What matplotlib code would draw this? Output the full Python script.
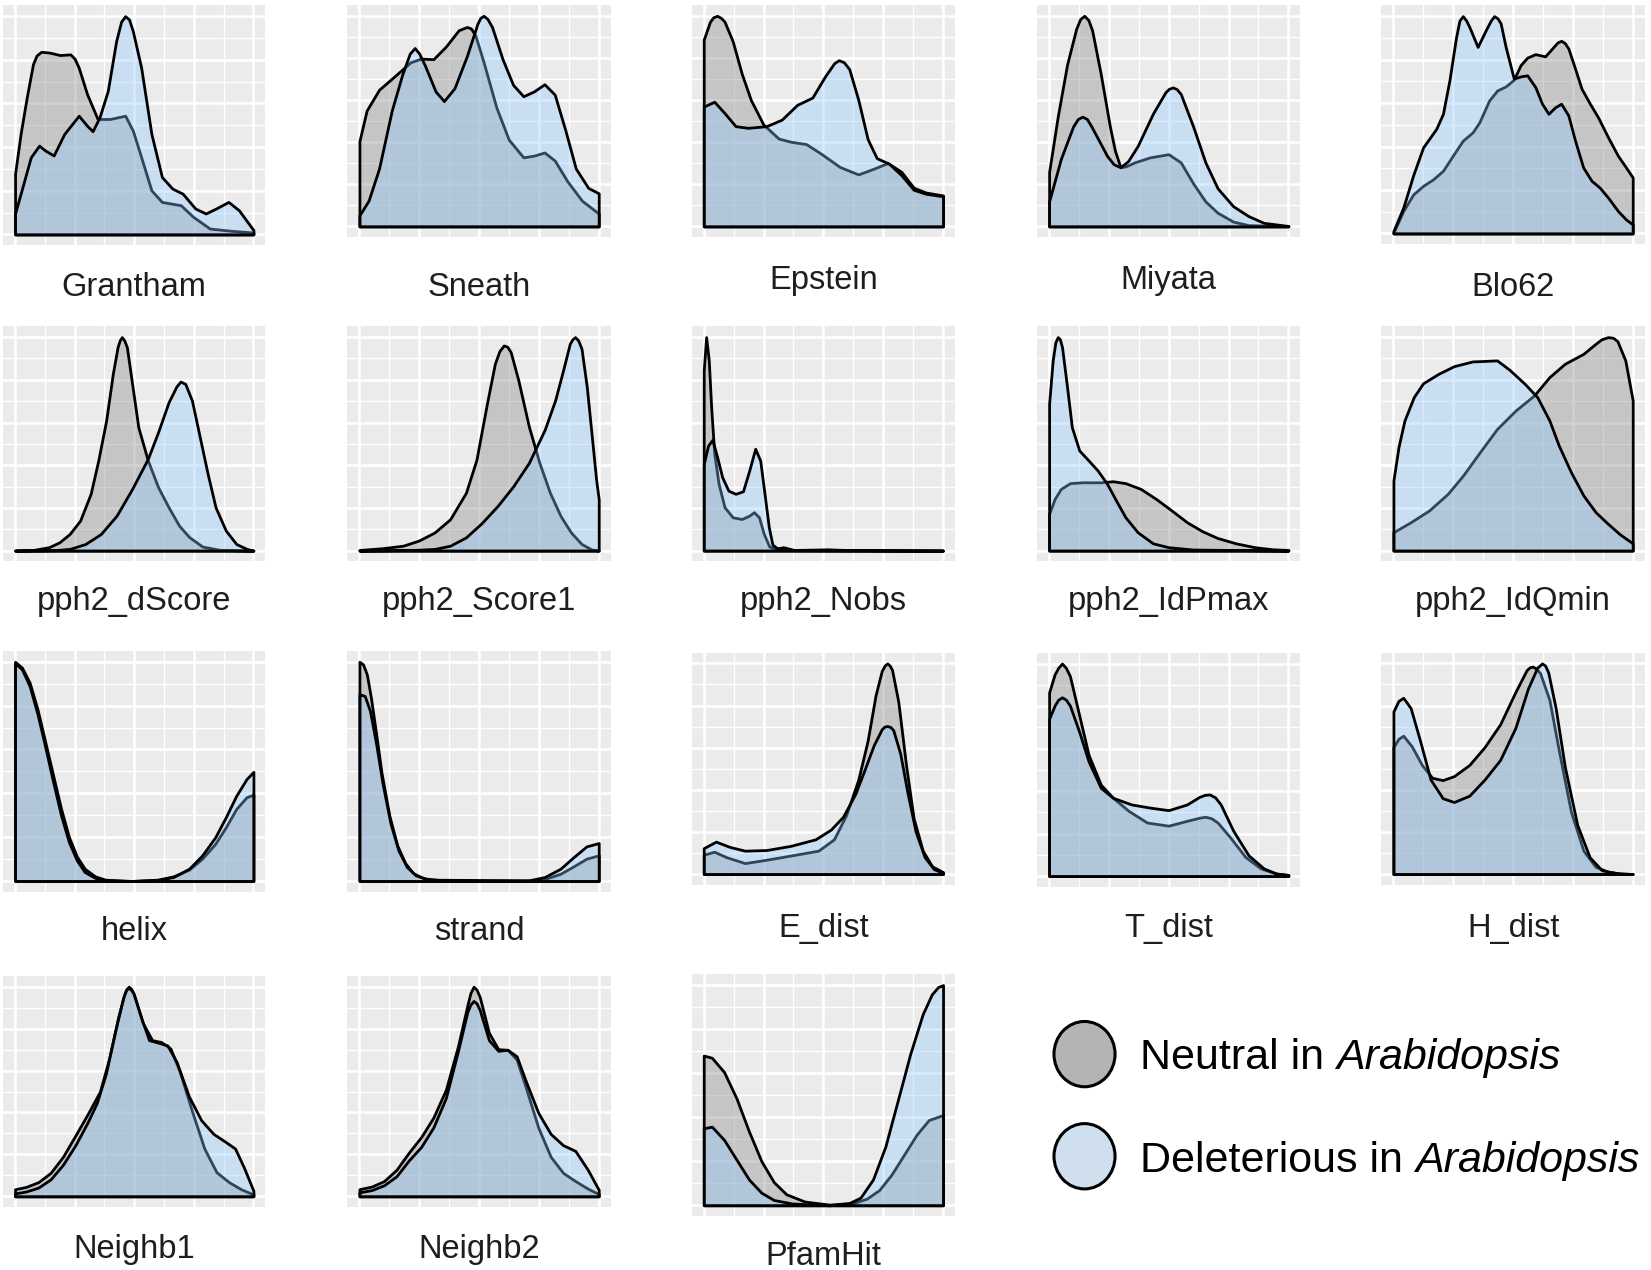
import matplotlib
matplotlib.use('Agg')
import matplotlib.pyplot as plt
from matplotlib.patches import Ellipse
from matplotlib.ticker import MultipleLocator

plt.rcParams['font.family'] = ['Liberation Sans', 'DejaVu Sans']

# ---------------- data (x normalised to variable range, y relative density) -------------
grantham_xn = [0, 0.023, 0.049, 0.075, 0.09, 0.11, 0.145, 0.188, 0.232, 0.25, 0.267, 0.302, 0.346, 0.398, 0.462, 0.494, 0.529, 0.572, 0.616, 0.695, 0.747, 0.817, 0.904, 1.0]
grantham_yn = [0.278, 0.46, 0.628, 0.78, 0.82, 0.837, 0.833, 0.822, 0.825, 0.805, 0.764, 0.643, 0.529, 0.529, 0.544, 0.476, 0.354, 0.202, 0.149, 0.134, 0.081, 0.027, 0.017, 0.009]
grantham_xd = [0, 0.031, 0.066, 0.101, 0.127, 0.162, 0.206, 0.267, 0.302, 0.325, 0.354, 0.389, 0.424, 0.445, 0.462, 0.478, 0.494, 0.529, 0.572, 0.616, 0.66, 0.703, 0.756, 0.8, 0.843, 0.895, 0.939, 1.0]
grantham_yd = [0.096, 0.217, 0.354, 0.407, 0.384, 0.362, 0.46, 0.544, 0.498, 0.473, 0.536, 0.658, 0.886, 0.975, 1.0, 0.985, 0.932, 0.764, 0.46, 0.263, 0.21, 0.187, 0.119, 0.096, 0.119, 0.149, 0.111, 0.02]

sneath_xn = [0, 0.03, 0.082, 0.152, 0.213, 0.257, 0.309, 0.362, 0.414, 0.449, 0.466, 0.484, 0.519, 0.572, 0.624, 0.685, 0.729, 0.773, 0.816, 0.869, 0.93, 1.0]
sneath_yn = [0.405, 0.55, 0.649, 0.718, 0.779, 0.797, 0.794, 0.855, 0.931, 0.947, 0.94, 0.908, 0.779, 0.565, 0.412, 0.328, 0.336, 0.351, 0.313, 0.214, 0.122, 0.061]
sneath_xd = [0, 0.038, 0.082, 0.135, 0.178, 0.21, 0.231, 0.25, 0.274, 0.318, 0.353, 0.397, 0.449, 0.493, 0.505, 0.519, 0.535, 0.554, 0.598, 0.642, 0.685, 0.729, 0.773, 0.816, 0.86, 0.904, 0.956, 1.0]
sneath_yd = [0.053, 0.122, 0.275, 0.55, 0.718, 0.82, 0.847, 0.82, 0.763, 0.641, 0.595, 0.656, 0.809, 0.962, 0.99, 1.0, 0.985, 0.947, 0.794, 0.672, 0.618, 0.641, 0.675, 0.626, 0.458, 0.275, 0.183, 0.157]

epstein_xn = [0, 0.026, 0.04, 0.056, 0.072, 0.087, 0.121, 0.159, 0.197, 0.249, 0.313, 0.364, 0.428, 0.492, 0.569, 0.646, 0.71, 0.769, 0.826, 0.877, 0.928, 1.0]
epstein_yn = [0.887, 0.972, 0.993, 1.0, 0.99, 0.972, 0.879, 0.724, 0.6, 0.484, 0.417, 0.402, 0.391, 0.344, 0.282, 0.247, 0.274, 0.301, 0.259, 0.184, 0.161, 0.147]
epstein_xd = [0, 0.044, 0.087, 0.133, 0.185, 0.262, 0.326, 0.39, 0.454, 0.505, 0.545, 0.564, 0.585, 0.608, 0.646, 0.685, 0.723, 0.774, 0.826, 0.877, 0.928, 1.0]
epstein_yd = [0.569, 0.592, 0.538, 0.476, 0.468, 0.476, 0.507, 0.577, 0.612, 0.709, 0.775, 0.789, 0.78, 0.747, 0.6, 0.414, 0.324, 0.298, 0.243, 0.174, 0.155, 0.143]

miyata_xn = [0, 0.036, 0.075, 0.113, 0.13, 0.147, 0.164, 0.18, 0.216, 0.254, 0.275, 0.298, 0.32, 0.357, 0.422, 0.499, 0.55, 0.602, 0.653, 0.704, 0.769, 0.833, 1.0]
miyata_yn = [0.258, 0.521, 0.768, 0.938, 0.985, 1.0, 0.98, 0.93, 0.722, 0.474, 0.36, 0.281, 0.285, 0.304, 0.328, 0.343, 0.304, 0.204, 0.119, 0.065, 0.023, 0.006, 0.002]
miyata_xd = [0, 0.049, 0.1, 0.12, 0.139, 0.158, 0.177, 0.242, 0.27, 0.298, 0.33, 0.37, 0.434, 0.486, 0.5, 0.517, 0.533, 0.55, 0.602, 0.653, 0.704, 0.769, 0.833, 0.897, 1.0]
miyata_yd = [0.119, 0.32, 0.474, 0.51, 0.521, 0.51, 0.474, 0.335, 0.295, 0.281, 0.31, 0.382, 0.536, 0.637, 0.653, 0.66, 0.652, 0.629, 0.474, 0.304, 0.181, 0.096, 0.049, 0.017, 0.002]

blo62_xn = [0, 0.041, 0.083, 0.124, 0.166, 0.207, 0.248, 0.29, 0.331, 0.359, 0.4, 0.434, 0.469, 0.503, 0.531, 0.559, 0.593, 0.634, 0.669, 0.686, 0.701, 0.716, 0.731, 0.759, 0.786, 0.821, 0.855, 0.897, 0.938, 0.972, 1.0]
blo62_yn = [0.003, 0.103, 0.179, 0.218, 0.248, 0.287, 0.356, 0.425, 0.463, 0.509, 0.609, 0.655, 0.673, 0.704, 0.77, 0.805, 0.821, 0.811, 0.854, 0.875, 0.882, 0.872, 0.847, 0.755, 0.663, 0.594, 0.532, 0.44, 0.356, 0.302, 0.256]
blo62_xd = [0, 0.041, 0.083, 0.124, 0.179, 0.207, 0.234, 0.262, 0.276, 0.29, 0.304, 0.317, 0.352, 0.386, 0.407, 0.421, 0.435, 0.448, 0.469, 0.503, 0.531, 0.559, 0.593, 0.621, 0.648, 0.676, 0.701, 0.731, 0.759, 0.793, 0.828, 0.862, 0.897, 0.938, 0.972, 1.0]
blo62_yd = [0.011, 0.118, 0.268, 0.394, 0.479, 0.548, 0.701, 0.9, 0.975, 0.995, 0.975, 0.946, 0.854, 0.931, 0.975, 0.995, 0.985, 0.962, 0.854, 0.709, 0.719, 0.724, 0.67, 0.594, 0.548, 0.578, 0.594, 0.54, 0.425, 0.302, 0.241, 0.21, 0.164, 0.103, 0.064, 0.041]

dscore_xn = [0, 0.076, 0.142, 0.186, 0.229, 0.273, 0.317, 0.349, 0.382, 0.41, 0.43, 0.439, 0.448, 0.458, 0.469, 0.491, 0.517, 0.557, 0.6, 0.644, 0.688, 0.731, 0.786, 0.862, 1.0]
dscore_yn = [0, 0.003, 0.016, 0.039, 0.078, 0.141, 0.266, 0.422, 0.609, 0.828, 0.953, 0.985, 1.0, 0.985, 0.953, 0.781, 0.578, 0.422, 0.297, 0.203, 0.117, 0.063, 0.019, 0.003, 0]
dscore_xd = [0, 0.164, 0.229, 0.295, 0.36, 0.426, 0.491, 0.557, 0.6, 0.644, 0.677, 0.694, 0.714, 0.742, 0.775, 0.808, 0.841, 0.884, 0.928, 0.972, 1.0]
dscore_yd = [0, 0.002, 0.008, 0.031, 0.078, 0.164, 0.289, 0.43, 0.555, 0.695, 0.769, 0.792, 0.781, 0.703, 0.531, 0.359, 0.203, 0.094, 0.031, 0.008, 0]

score1_xn = [0, 0.094, 0.182, 0.248, 0.314, 0.379, 0.445, 0.489, 0.533, 0.566, 0.585, 0.603, 0.618, 0.632, 0.664, 0.708, 0.752, 0.796, 0.84, 0.884, 0.928, 0.971, 1.0]
score1_yn = [0.003, 0.011, 0.023, 0.047, 0.085, 0.147, 0.271, 0.426, 0.69, 0.876, 0.935, 0.961, 0.955, 0.93, 0.798, 0.581, 0.411, 0.271, 0.163, 0.085, 0.031, 0.005, 0]
score1_xd = [0, 0.226, 0.314, 0.379, 0.445, 0.511, 0.577, 0.643, 0.708, 0.774, 0.818, 0.851, 0.879, 0.89, 0.901, 0.914, 0.928, 0.95, 0.971, 0.989, 1.0]
score1_yd = [0, 0.003, 0.008, 0.023, 0.062, 0.129, 0.209, 0.302, 0.411, 0.566, 0.705, 0.845, 0.969, 0.99, 1.0, 0.985, 0.946, 0.767, 0.535, 0.333, 0.24]

nobs_xn = [0, 0.01, 0.021, 0.031, 0.044, 0.062, 0.087, 0.121, 0.159, 0.19, 0.21, 0.231, 0.251, 0.274, 0.3, 0.333, 0.377, 0.518, 0.595, 1.0]
nobs_yn = [0.844, 1.0, 0.891, 0.672, 0.453, 0.313, 0.203, 0.156, 0.148, 0.164, 0.18, 0.156, 0.078, 0.019, 0.009, 0.016, 0.003, 0.006, 0.003, 0]
nobs_xd = [0, 0.018, 0.036, 0.056, 0.077, 0.103, 0.133, 0.164, 0.19, 0.215, 0.236, 0.254, 0.272, 0.287, 0.313, 0.415, 1.0]
nobs_yd = [0.406, 0.492, 0.519, 0.438, 0.344, 0.281, 0.266, 0.278, 0.375, 0.477, 0.422, 0.266, 0.109, 0.028, 0.006, 0.002, 0]

idpmax_xn = [0, 0.023, 0.049, 0.087, 0.139, 0.216, 0.267, 0.319, 0.383, 0.447, 0.512, 0.576, 0.64, 0.704, 0.781, 0.859, 0.936, 1.0]
idpmax_yn = [0.172, 0.242, 0.289, 0.316, 0.32, 0.32, 0.325, 0.316, 0.289, 0.242, 0.188, 0.133, 0.091, 0.059, 0.034, 0.016, 0.006, 0.003]
idpmax_xd = [0, 0.015, 0.026, 0.036, 0.045, 0.054, 0.075, 0.095, 0.126, 0.165, 0.203, 0.242, 0.28, 0.319, 0.37, 0.434, 0.499, 0.602, 1.0]
idpmax_yd = [0.688, 0.891, 0.975, 1.0, 0.99, 0.953, 0.766, 0.578, 0.469, 0.422, 0.375, 0.313, 0.234, 0.156, 0.086, 0.034, 0.016, 0.005, 0]

idqmin_xn = [0, 0.072, 0.149, 0.227, 0.291, 0.356, 0.433, 0.51, 0.588, 0.652, 0.716, 0.794, 0.845, 0.87, 0.897, 0.918, 0.936, 0.969, 1.0]
idqmin_yn = [0.086, 0.133, 0.188, 0.266, 0.352, 0.453, 0.57, 0.656, 0.727, 0.813, 0.875, 0.922, 0.969, 0.99, 1.0, 0.997, 0.981, 0.891, 0.703]
idqmin_xd = [0, 0.021, 0.046, 0.085, 0.124, 0.188, 0.253, 0.33, 0.433, 0.485, 0.549, 0.601, 0.652, 0.691, 0.742, 0.794, 0.845, 0.897, 0.948, 1.0]
idqmin_yd = [0.328, 0.484, 0.609, 0.719, 0.784, 0.828, 0.864, 0.886, 0.891, 0.847, 0.781, 0.719, 0.609, 0.492, 0.367, 0.258, 0.18, 0.125, 0.075, 0.034]

helix_xn = [0, 0.029, 0.061, 0.094, 0.127, 0.16, 0.193, 0.226, 0.259, 0.292, 0.336, 0.379, 0.489, 0.599, 0.664, 0.73, 0.785, 0.84, 0.884, 0.928, 0.971, 1.0]
helix_yn = [1.0, 0.973, 0.905, 0.783, 0.632, 0.48, 0.329, 0.2, 0.112, 0.056, 0.021, 0.006, 0, 0.006, 0.021, 0.052, 0.102, 0.17, 0.245, 0.329, 0.382, 0.394]
helix_xd = [0, 0.029, 0.061, 0.094, 0.127, 0.16, 0.193, 0.226, 0.259, 0.292, 0.336, 0.379, 0.489, 0.599, 0.664, 0.73, 0.785, 0.84, 0.884, 0.928, 0.971, 1.0]
helix_yd = [0.994, 0.965, 0.889, 0.761, 0.609, 0.45, 0.298, 0.177, 0.094, 0.041, 0.014, 0.003, 0, 0.005, 0.018, 0.056, 0.117, 0.2, 0.291, 0.389, 0.465, 0.498]

strand_xn = [0, 0.015, 0.031, 0.048, 0.07, 0.092, 0.125, 0.158, 0.191, 0.224, 0.268, 0.356, 0.708, 0.774, 0.84, 0.895, 0.949, 1.0]
strand_yn = [1.0, 0.988, 0.942, 0.836, 0.67, 0.495, 0.298, 0.162, 0.082, 0.036, 0.012, 0.002, 0.002, 0.009, 0.033, 0.067, 0.102, 0.117]
strand_xd = [0, 0.022, 0.044, 0.07, 0.097, 0.13, 0.163, 0.198, 0.235, 0.29, 0.708, 0.774, 0.84, 0.895, 0.949, 1.0]
strand_yd = [0.852, 0.844, 0.776, 0.624, 0.442, 0.261, 0.139, 0.064, 0.026, 0.006, 0.003, 0.018, 0.056, 0.109, 0.158, 0.173]

edist_xn = [0, 0.044, 0.095, 0.172, 0.262, 0.364, 0.479, 0.544, 0.595, 0.646, 0.685, 0.718, 0.744, 0.756, 0.767, 0.777, 0.787, 0.813, 0.846, 0.877, 0.915, 0.954, 1.0]
edist_yn = [0.092, 0.106, 0.08, 0.052, 0.068, 0.088, 0.111, 0.165, 0.28, 0.449, 0.634, 0.849, 0.965, 0.99, 1.0, 0.99, 0.969, 0.818, 0.511, 0.265, 0.111, 0.037, 0.009]
edist_xd = [0, 0.051, 0.108, 0.172, 0.262, 0.364, 0.467, 0.531, 0.582, 0.633, 0.672, 0.71, 0.744, 0.755, 0.767, 0.78, 0.792, 0.821, 0.851, 0.885, 0.923, 0.962, 1.0]
edist_yd = [0.123, 0.154, 0.129, 0.111, 0.114, 0.134, 0.165, 0.211, 0.272, 0.38, 0.495, 0.611, 0.688, 0.70, 0.703, 0.698, 0.683, 0.572, 0.388, 0.203, 0.08, 0.023, 0.006]

tdist_xn = [0, 0.023, 0.038, 0.054, 0.07, 0.087, 0.126, 0.165, 0.216, 0.267, 0.332, 0.409, 0.499, 0.576, 0.63, 0.653, 0.678, 0.704, 0.756, 0.82, 0.884, 0.949, 1.0]
tdist_yn = [0.864, 0.949, 0.98, 1.0, 0.98, 0.941, 0.755, 0.57, 0.43, 0.368, 0.307, 0.252, 0.237, 0.26, 0.275, 0.279, 0.272, 0.252, 0.183, 0.09, 0.036, 0.012, 0.005]
tdist_xd = [0, 0.023, 0.038, 0.054, 0.07, 0.087, 0.126, 0.165, 0.216, 0.267, 0.344, 0.422, 0.499, 0.576, 0.627, 0.65, 0.671, 0.694, 0.717, 0.769, 0.833, 0.897, 0.949, 1.0]
tdist_yd = [0.74, 0.802, 0.83, 0.841, 0.83, 0.802, 0.678, 0.539, 0.415, 0.368, 0.337, 0.322, 0.31, 0.337, 0.372, 0.382, 0.384, 0.37, 0.337, 0.214, 0.098, 0.036, 0.012, 0.005]

hdist_xn = [0, 0.021, 0.041, 0.077, 0.119, 0.162, 0.206, 0.253, 0.317, 0.381, 0.446, 0.51, 0.557, 0.57, 0.582, 0.597, 0.613, 0.652, 0.691, 0.742, 0.794, 0.845, 0.897, 0.948, 1.0]
hdist_yn = [0.603, 0.642, 0.657, 0.606, 0.518, 0.457, 0.446, 0.465, 0.518, 0.603, 0.711, 0.865, 0.969, 0.982, 0.985, 0.975, 0.954, 0.826, 0.588, 0.295, 0.111, 0.034, 0.011, 0.003, 0]
hdist_xd = [0, 0.021, 0.041, 0.072, 0.111, 0.155, 0.206, 0.253, 0.317, 0.381, 0.446, 0.51, 0.562, 0.601, 0.621, 0.634, 0.647, 0.678, 0.716, 0.768, 0.82, 0.871, 0.936, 1.0]
hdist_yd = [0.772, 0.822, 0.837, 0.788, 0.634, 0.449, 0.36, 0.342, 0.372, 0.449, 0.542, 0.695, 0.88, 0.98, 1.0, 0.99, 0.957, 0.788, 0.511, 0.234, 0.08, 0.018, 0.003, 0]

neighb1_xn = [0, 0.046, 0.098, 0.149, 0.201, 0.253, 0.304, 0.356, 0.394, 0.433, 0.459, 0.468, 0.477, 0.487, 0.497, 0.536, 0.575, 0.613, 0.652, 0.691, 0.742, 0.794, 0.845, 0.897, 0.948, 1.0]
neighb1_yn = [0.034, 0.045, 0.068, 0.112, 0.189, 0.29, 0.391, 0.5, 0.655, 0.857, 0.966, 0.99, 1.0, 0.99, 0.969, 0.826, 0.745, 0.736, 0.705, 0.593, 0.407, 0.228, 0.115, 0.068, 0.034, 0.009]
neighb1_xd = [0, 0.046, 0.098, 0.149, 0.201, 0.253, 0.304, 0.343, 0.381, 0.42, 0.454, 0.466, 0.477, 0.487, 0.497, 0.531, 0.562, 0.601, 0.639, 0.678, 0.729, 0.781, 0.832, 0.884, 0.923, 0.961, 1.0]
neighb1_yd = [0.014, 0.023, 0.042, 0.081, 0.151, 0.244, 0.352, 0.446, 0.585, 0.787, 0.95, 0.985, 0.994, 0.985, 0.966, 0.845, 0.745, 0.733, 0.72, 0.64, 0.477, 0.363, 0.298, 0.259, 0.228, 0.135, 0.026]

neighb2_xn = [0, 0.052, 0.103, 0.155, 0.206, 0.258, 0.309, 0.361, 0.412, 0.451, 0.464, 0.477, 0.49, 0.503, 0.541, 0.58, 0.619, 0.657, 0.696, 0.747, 0.799, 0.851, 0.902, 0.954, 1.0]
neighb2_yn = [0.034, 0.047, 0.073, 0.127, 0.208, 0.283, 0.376, 0.508, 0.717, 0.911, 0.97, 1.0, 0.985, 0.95, 0.78, 0.702, 0.699, 0.652, 0.516, 0.329, 0.189, 0.112, 0.073, 0.037, 0.011]
neighb2_xd = [0, 0.052, 0.103, 0.155, 0.206, 0.258, 0.309, 0.361, 0.412, 0.451, 0.464, 0.477, 0.49, 0.503, 0.541, 0.58, 0.619, 0.657, 0.696, 0.747, 0.799, 0.851, 0.902, 0.954, 1.0]
neighb2_yd = [0.019, 0.03, 0.053, 0.096, 0.171, 0.236, 0.329, 0.469, 0.694, 0.88, 0.915, 0.932, 0.92, 0.888, 0.745, 0.694, 0.699, 0.668, 0.547, 0.399, 0.298, 0.244, 0.217, 0.127, 0.031]

pfam_xn = [0, 0.034, 0.085, 0.137, 0.189, 0.241, 0.293, 0.345, 0.422, 0.526, 0.63, 0.681, 0.733, 0.785, 0.837, 0.889, 0.94, 1.0]
pfam_yn = [0.68, 0.67, 0.605, 0.485, 0.335, 0.2, 0.105, 0.05, 0.017, 0.003, 0.012, 0.03, 0.069, 0.14, 0.23, 0.32, 0.387, 0.41]
pfam_xd = [0, 0.034, 0.085, 0.137, 0.189, 0.241, 0.293, 0.37, 0.526, 0.604, 0.655, 0.707, 0.759, 0.811, 0.863, 0.915, 0.953, 0.979, 1.0]
pfam_yd = [0.35, 0.357, 0.297, 0.207, 0.117, 0.057, 0.024, 0.008, 0, 0.008, 0.035, 0.117, 0.267, 0.477, 0.688, 0.868, 0.958, 0.991, 1.0]

panel_names = ["Grantham", "Sneath", "Epstein", "Miyata", "Blo62",
               "pph2_dScore", "pph2_Score1", "pph2_Nobs", "pph2_IdPmax", "pph2_IdQmin",
               "helix", "strand", "E_dist", "T_dist", "H_dist",
               "Neighb1", "Neighb2", "PfamHit"]
neutral_x = [grantham_xn, sneath_xn, epstein_xn, miyata_xn, blo62_xn, dscore_xn, score1_xn, nobs_xn, idpmax_xn,
             idqmin_xn, helix_xn, strand_xn, edist_xn, tdist_xn, hdist_xn, neighb1_xn, neighb2_xn, pfam_xn]
neutral_y = [grantham_yn, sneath_yn, epstein_yn, miyata_yn, blo62_yn, dscore_yn, score1_yn, nobs_yn, idpmax_yn,
             idqmin_yn, helix_yn, strand_yn, edist_yn, tdist_yn, hdist_yn, neighb1_yn, neighb2_yn, pfam_yn]
delet_x = [grantham_xd, sneath_xd, epstein_xd, miyata_xd, blo62_xd, dscore_xd, score1_xd, nobs_xd, idpmax_xd,
           idqmin_xd, helix_xd, strand_xd, edist_xd, tdist_xd, hdist_xd, neighb1_xd, neighb2_xd, pfam_xd]
delet_y = [grantham_yd, sneath_yd, epstein_yd, miyata_yd, blo62_yd, dscore_yd, score1_yd, nobs_yd, idpmax_yd,
           idqmin_yd, helix_yd, strand_yd, edist_yd, tdist_yd, hdist_yd, neighb1_yd, neighb2_yd, pfam_yd]

legend_labels = ["Neutral in", "Deleterious in"]
legend_species = "Arabidopsis"

# ---------------- layout (reference pixel frame 1568 x 1206) ----------------
W, H = 1568.0, 1206.0
boxes = [
    (3, 5, 252, 233), (330, 5, 580, 225), (657, 5, 907, 225), (985, 5, 1235, 225), (1312, 5, 1562, 232),
    (3, 310, 252, 533), (330, 310, 580, 533), (657, 310, 907, 533), (985, 310, 1235, 533), (1312, 310, 1562, 533),
    (3, 618, 252, 847), (330, 618, 580, 847), (657, 620, 907, 840), (985, 620, 1235, 842), (1312, 620, 1562, 840),
    (3, 927, 252, 1146), (330, 927, 580, 1146), (657, 925, 907, 1155),
]
label_base = [281, 281, 274, 274, 281,
              579, 579, 579, 579, 579,
              893, 893, 890, 890, 890,
              1195, 1195, 1201]

NEUTRAL_FILL = (135 / 255, 135 / 255, 135 / 255, 0.38)
DELET_FILL = (140 / 255, 200 / 255, 255 / 255, 0.35)
EDGE_LW = 2.0

fig = plt.figure(figsize=(16.51, 12.70), dpi=100)
fig.patch.set_facecolor('white')

for i, name in enumerate(panel_names):
    x0, y0, x1, y1 = boxes[i]
    ax = fig.add_axes([x0 / W, 1 - y1 / H, (x1 - x0) / W, (y1 - y0) / H])
    ax.set_facecolor('#EBEBEB')
    ax.fill_between(neutral_x[i], neutral_y[i], 0, facecolor=NEUTRAL_FILL, edgecolor='black',
                    linewidth=EDGE_LW, joinstyle='round', zorder=3)
    ax.fill_between(delet_x[i], delet_y[i], 0, facecolor=DELET_FILL, edgecolor='black',
                    linewidth=EDGE_LW, joinstyle='round', zorder=4)
    ymax = max(max(neutral_y[i]), max(delet_y[i]))
    ax.set_xlim(-0.05, 1.05)
    ax.set_ylim(-0.05 * ymax, 1.05 * ymax)
    ax.xaxis.set_major_locator(MultipleLocator(0.25))
    ax.xaxis.set_minor_locator(MultipleLocator(0.125))
    ax.yaxis.set_major_locator(MultipleLocator(0.2 * ymax))
    ax.yaxis.set_minor_locator(MultipleLocator(0.1 * ymax))
    ax.grid(which='major', color='white', linewidth=1.8)
    ax.grid(which='minor', color='white', linewidth=1.0)
    ax.set_axisbelow(True)
    ax.tick_params(which='both', length=0, labelbottom=False, labelleft=False)
    for s in ax.spines.values():
        s.set_visible(False)
    fig.text(((x0 + x1) / 2) / W, 1 - label_base[i] / H, name, ha='center', va='baseline',
             fontsize=23.5, color='#1e1e1e')

# ---------------- legend ----------------
lax = fig.add_axes([0, 0, 1, 1])
lax.set_xlim(0, W)
lax.set_ylim(H, 0)
lax.axis('off')
legend_fills = ['#b4b4b4', '#cfdfed']
legend_cy = [1001, 1098]
fig.canvas.draw()
renderer = fig.canvas.get_renderer()
for lab, fc, cy in zip(legend_labels, legend_fills, legend_cy):
    lax.add_patch(Ellipse((1030, cy), 58, 62, facecolor=fc, edgecolor='black', linewidth=2.2))
    t = lax.text(1083, cy + 14.5, lab, ha='left', va='baseline', fontsize=31, color='black')
    ext = t.get_window_extent(renderer)
    space_px = 0.278 * 31 * fig.dpi / 72.0
    xdisp = ext.x1 + space_px
    xdata = lax.transData.inverted().transform((xdisp, ext.y0))[0]
    lax.text(xdata, cy + 14.5, legend_species, ha='left', va='baseline', fontsize=31,
             style='italic', color='black')

fig.savefig('out.png', dpi=100, facecolor='white')
